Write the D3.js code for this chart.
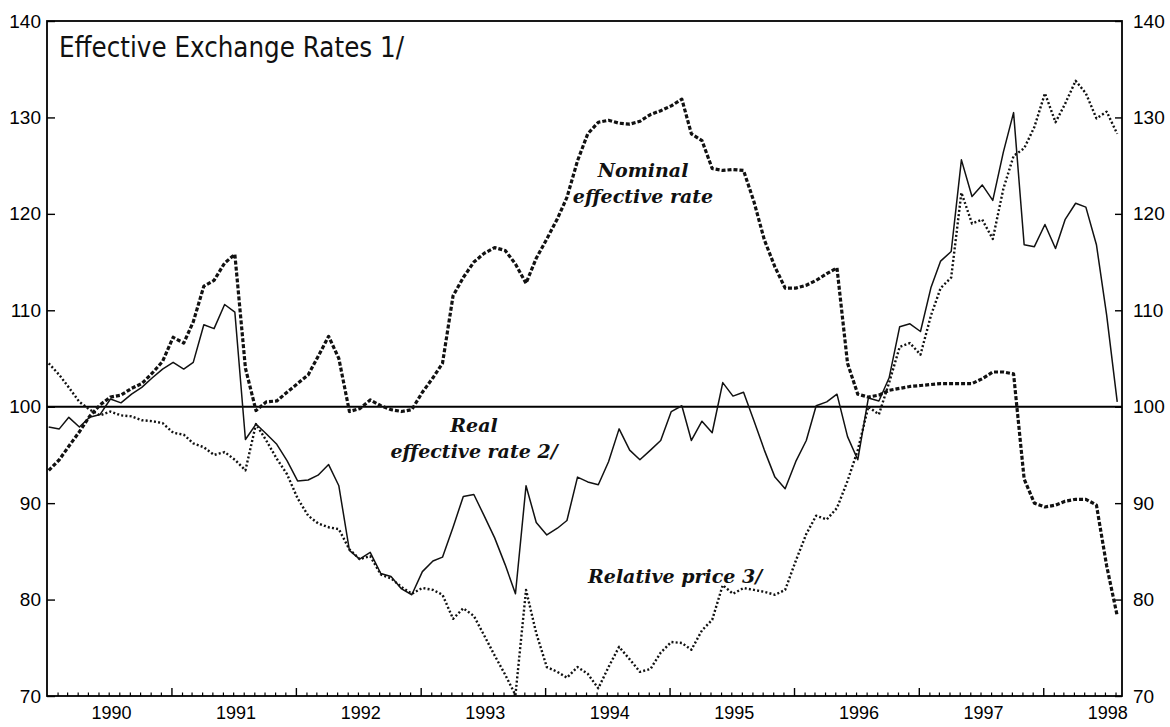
<!DOCTYPE html>
<html>
<head>
<meta charset="utf-8">
<script src="https://cdn.jsdelivr.net/npm/d3@7"></script>
<style>
  body { margin: 0; background: #fff; }
  svg { display: block; }
  .tick-label { font-family: "Liberation Sans", Arial, sans-serif; font-size: 19px; fill: #000; }
  .year-label { font-family: "Liberation Sans", Arial, sans-serif; font-size: 18px; fill: #000; }
  .note { font-family: "DejaVu Serif", serif; font-style: italic; font-weight: bold; font-size: 19px; fill: #111; }
</style>
</head>
<body>
<svg id="chart" width="1170" height="727"></svg>
<script>
'use strict'

// monthly observations, Jan 1990 - Aug 1998 (index, 1990 = 100)
const startYear = 1990
const nominal = [
  93.4, 94.5, 95.9, 97.4, 99.0, 100.2, 101.0, 101.2, 101.9, 102.4, 103.5, 104.7,
  107.2, 106.6, 108.8, 112.5, 113.1, 114.9, 115.8, 104.0, 99.6, 100.5, 100.6, 101.5,
  102.4, 103.3, 105.2, 107.3, 105.0, 99.5, 99.8, 100.7, 100.1, 99.7, 99.5, 99.7,
  101.5, 103.0, 104.5, 111.5, 113.4, 115.0, 115.9, 116.5, 116.2, 114.8, 112.8, 115.4,
  117.4, 119.5, 121.7, 125.5, 128.3, 129.5, 129.7, 129.4, 129.3, 129.6, 130.3, 130.7,
  131.2, 131.9, 128.3, 127.6, 124.7, 124.5, 124.6, 124.5, 121.2, 117.3, 114.5, 112.3,
  112.3, 112.6, 113.1, 113.8, 114.4, 104.5, 101.3, 101.0, 101.2, 101.7, 101.9, 102.1,
  102.2, 102.3, 102.4, 102.4, 102.4, 102.4, 102.9, 103.6, 103.6, 103.4, 92.5, 90.0,
  89.6, 89.8, 90.2, 90.4, 90.4, 89.8, 83.5, 78.3
]
const real = [
  97.9, 97.7, 98.9, 97.9, 98.9, 99.2, 100.8, 100.4, 101.3, 102.0, 103.0, 103.9,
  104.6, 103.9, 104.6, 108.5, 108.1, 110.6, 109.8, 96.6, 98.2, 97.2, 96.1, 94.4,
  92.3, 92.4, 92.9, 94.0, 91.8, 85.1, 84.2, 84.9, 82.7, 82.4, 81.1, 80.5,
  82.9, 84.0, 84.4, 87.5, 90.7, 90.9, 88.7, 86.4, 83.6, 80.6, 91.8, 88.0,
  86.7, 87.4, 88.2, 92.7, 92.2, 91.9, 94.3, 97.7, 95.5, 94.5, 95.5, 96.5,
  99.5, 100.1, 96.5, 98.5, 97.3, 102.5, 101.1, 101.5, 98.5, 95.5, 92.7, 91.5,
  94.3, 96.5, 100.1, 100.5, 101.3, 96.9, 94.5, 100.9, 100.6, 103.0, 108.3, 108.6,
  107.8, 112.4, 115.1, 116.1, 125.6, 121.8, 123.0, 121.4, 126.4, 130.5, 116.8, 116.6,
  118.9, 116.4, 119.4, 121.1, 120.7, 116.8, 109.5, 100.5
]
const relative = [
  104.5, 103.3, 102.0, 100.5, 99.7, 99.1, 99.5, 99.1, 99.0, 98.6, 98.5, 98.3,
  97.3, 97.1, 96.2, 95.8, 95.0, 95.3, 94.5, 93.4, 98.2, 96.5, 94.6, 93.0,
  90.5, 88.7, 87.9, 87.5, 87.3, 85.2, 84.2, 84.5, 82.6, 82.2, 81.3, 80.6,
  81.2, 81.0, 80.5, 78.0, 79.1, 78.3, 76.3, 74.2, 72.2, 70.1, 81.0, 76.5,
  73.0, 72.5, 71.9, 73.0, 72.3, 70.8, 73.0, 75.1, 73.8, 72.5, 72.8, 74.5,
  75.6, 75.5, 74.8, 76.8, 77.9, 81.5, 80.6, 81.2, 81.0, 80.8, 80.5, 81.0,
  84.0, 86.8, 88.7, 88.3, 89.5, 92.3, 95.5, 100.0, 99.2, 102.5, 106.2, 106.6,
  105.4, 109.5, 112.3, 113.4, 122.2, 119.0, 119.4, 117.4, 122.6, 126.0, 126.8, 129.0,
  132.5, 129.5, 131.4, 133.8, 132.5, 129.9, 130.6, 128.3
]
const yTicks = [70, 80, 90, 100, 110, 120, 130, 140]
const yearLabels = [1990, 1991, 1992, 1993, 1994, 1995, 1996, 1997, 1998]
const title = 'Effective Exchange Rates 1/'

const notes = [
  { lines: ['Nominal', 'effective rate'], x: 643, y: 203, anchor: 'middle' },
  { lines: ['Real', 'effective rate 2/'], x: 474, y: 458, anchor: 'middle' },
  { lines: ['Relative price 3/'], x: 588, y: 583, anchor: 'start' }
]

const margin = { left: 47, right: 1122, top: 21, bottom: 696 }
const svg = d3.select('#chart')

const x = d3.scaleTime()
  .domain([new Date(startYear, 0, 1), new Date(1998, 7, 20)])
  .range([margin.left, margin.right])
const y = d3.scaleLinear()
  .domain([70, 140])
  .range([margin.bottom, margin.top])

const monthDate = i => new Date(startYear, i, 6)

// frame
svg.append('rect')
  .attr('x', margin.left)
  .attr('y', margin.top)
  .attr('width', margin.right - margin.left)
  .attr('height', margin.bottom - margin.top)
  .attr('fill', 'none')
  .attr('stroke', '#000')
  .attr('stroke-width', 1.8)

// bottom axis: monthly ticks, taller ticks at year boundaries
const months = d3.timeMonth.range(new Date(startYear, 1, 1), new Date(1998, 8, 1))
  .filter(d => d.getMonth() !== 0)
const years = d3.timeYear.range(new Date(1991, 0, 1), new Date(1998, 1, 1))

svg.append('g')
  .attr('transform', `translate(0,${margin.bottom})`)
  .call(d3.axisBottom(x).tickValues(months).tickSize(-3.5).tickFormat(''))
  .call(g => g.select('.domain').remove())
  .call(g => g.selectAll('line').attr('stroke-width', 1.2))

svg.append('g')
  .attr('transform', `translate(0,${margin.bottom})`)
  .call(d3.axisBottom(x).tickValues(years).tickSize(-8).tickFormat(''))
  .call(g => g.select('.domain').remove())
  .call(g => g.selectAll('line').attr('stroke-width', 1.4))

svg.append('g')
  .attr('transform', `translate(0,${margin.bottom})`)
  .call(d3.axisBottom(x)
    .tickValues(yearLabels.map(yr => new Date(yr, 6, 8)))
    .tickSize(0)
    .tickPadding(10)
    .tickFormat(d3.timeFormat('%Y')))
  .call(g => g.select('.domain').remove())
  .call(g => g.selectAll('text').attr('class', 'year-label').attr('font-size', null).attr('font-family', null))

// left and right value axes, ticks pointing inward
svg.append('g')
  .attr('transform', `translate(${margin.left},0)`)
  .call(d3.axisLeft(y).tickValues(yTicks).tickSize(-8).tickPadding(6))
  .call(g => g.select('.domain').remove())
  .call(g => g.selectAll('line').attr('stroke-width', 1.4))
  .call(g => g.selectAll('text').attr('class', 'tick-label').attr('font-size', null).attr('font-family', null))

svg.append('g')
  .attr('transform', `translate(${margin.right},0)`)
  .call(d3.axisRight(y).tickValues(yTicks).tickSize(-7).tickPadding(11))
  .call(g => g.select('.domain').remove())
  .call(g => g.selectAll('line').attr('stroke-width', 1.4))
  .call(g => g.selectAll('text').attr('class', 'tick-label').attr('font-size', null).attr('font-family', null))

// reference line at 100
svg.append('line')
  .attr('x1', margin.left)
  .attr('x2', margin.right)
  .attr('y1', y(100))
  .attr('y2', y(100))
  .attr('stroke', '#000')
  .attr('stroke-width', 2)

const line = d3.line()
  .x((d, i) => x(monthDate(i)))
  .y(d => y(d))

const series = [
  { values: relative, width: 2.4, dash: '2,2.2' },
  { values: real, width: 1.5, dash: null },
  { values: nominal, width: 3.2, dash: '4,2' }
]

svg.append('g')
  .selectAll('path')
  .data(series)
  .join('path')
  .attr('d', s => line(s.values))
  .attr('fill', 'none')
  .attr('stroke', '#111')
  .attr('stroke-width', s => s.width)
  .attr('stroke-dasharray', s => s.dash)
  .attr('stroke-linejoin', 'round')

// title
svg.append('text')
  .attr('x', 59)
  .attr('y', 57)
  .attr('font-family', '"DejaVu Sans", sans-serif')
  .attr('font-size', 28)
  .attr('textLength', 345)
  .attr('lengthAdjust', 'spacingAndGlyphs')
  .attr('fill', '#111')
  .text(title)

// series notes
notes.forEach(n => {
  const t = svg.append('text')
    .attr('class', 'note')
    .attr('text-anchor', n.anchor)
  n.lines.forEach((ln, k) => {
    t.append('tspan')
      .attr('x', n.x)
      .attr('y', n.y - (n.lines.length - 1 - k) * 26)
      .text(ln)
  })
})
</script>
</body>
</html>
